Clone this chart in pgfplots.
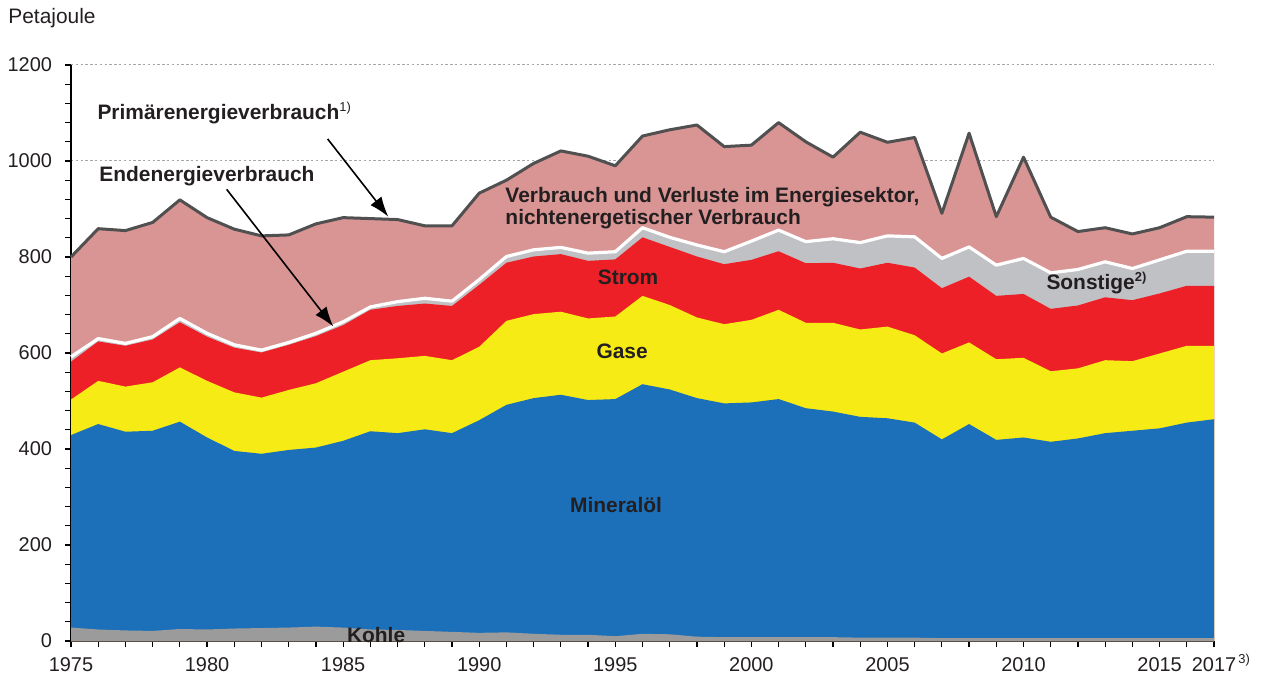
\documentclass[border=0pt]{standalone}
\usepackage{fontspec}
\setmainfont{Liberation Sans}
\usepackage{pgfplots}
\pgfplotsset{compat=1.18}
\usepackage{pgfplotstable}
\usetikzlibrary{arrows.meta}

\definecolor{cpink}{RGB}{217,148,148}
\definecolor{cred}{RGB}{237,32,39}
\definecolor{cyellow}{RGB}{246,235,20}
\definecolor{cblue}{RGB}{27,112,185}
\definecolor{ckohle}{RGB}{155,155,155}
\definecolor{csonst}{RGB}{192,193,196}
\definecolor{cprim}{RGB}{80,80,80}
\definecolor{ctext}{RGB}{35,31,32}

% cumulative tops of the stacked layers (Petajoule)
\pgfplotstableread{
year kohle oel gase strom ende prim
1975 28 429 503 582 592 800
1976 24 452 542 624 630 859
1977 22 436 530 615 620 855
1978 21 438 539 628 634 872
1979 25 457 570 664 672 919
1980 24 424 542 634 641 882
1981 26 396 518 611 617 858
1982 27 390 507 601 606 844
1983 28 398 523 617 622 846
1984 30 403 537 635 641 869
1985 28 417 561 658 665 882
1986 24 437 585 690 696 880
1987 23 433 589 698 707 878
1988 21 441 594 703 714 865
1989 19 433 585 698 708 865
1990 17 460 613 742 753 933
1991 18 492 667 788 801 960
1992 15 506 681 801 815 995
1993 13 513 686 806 820 1021
1994 13 502 672 792 808 1010
1995 10 504 676 795 811 990
1996 15 535 719 841 861 1052
1997 14 524 700 821 841 1065
1998 9 506 674 801 825 1075
1999 8 495 660 785 811 1030
2000 8 497 669 794 833 1033
2001 8 504 690 812 856 1080
2002 8 485 663 787 832 1040
2003 8 478 663 788 838 1008
2004 7 467 649 776 830 1060
2005 7 464 655 788 844 1039
2006 7 455 637 778 842 1049
2007 6 420 599 735 797 891
2008 6 452 622 759 821 1058
2009 6 419 587 719 783 884
2010 6 424 590 723 797 1008
2011 6 415 562 692 767 883
2012 6 422 568 699 774 853
2013 6 433 585 716 790 861
2014 6 438 583 710 776 848
2015 6 443 599 724 794 861
2016 6 455 615 740 812 884
2017 6 462 615 740 812 883
}\data

\begin{document}
\begin{tikzpicture}[x=1bp,y=1bp]
\path[use as bounding box] (0,0) rectangle (632,341);
\node[anchor=west, inner sep=0pt, text=ctext, font=\fontsize{10.5}{12}\selectfont] at (4,332) {Petajoule};
\begin{axis}[
  at={(35.5bp,20.5bp)}, anchor=south west,
  scale only axis, width=571.5bp, height=288bp,
  xmin=1975, xmax=2017, ymin=0, ymax=1200,
  axis x line=bottom, axis y line=left,
  axis line style={-, line width=0.7bp, black},
  xtick={1975,1980,1985,1990,1995,2000,2005,2010,2015,2017},
  xticklabels={1975,1980,1985,1990,1995,2000,2005,2010,2015,{2017\rlap{\smash{\raisebox{0.8ex}{\fontsize{6.5}{7}\selectfont\,3)}}}}},
  minor xtick={1975,1976,...,2017},
  ytick={0,200,...,1200},
  minor ytick={0,40,...,1200},
  tick align=outside,
  major tick length=3bp, minor tick length=3bp,
  tick style={black, line width=0.6bp},
  ymajorgrids,
  grid style={dashed, dash pattern=on 1.2bp off 1.2bp, gray!70, line width=0.5bp},
  tick label style={font=\fontsize{10}{12}\selectfont, text=ctext},
  /pgf/number format/assume math mode=true,
  /pgf/number format/1000 sep={},
  xticklabel style={yshift=-2bp},
  yticklabel style={xshift=-3bp},
  clip=false,
]
\addplot[fill=cpink, draw=none] table[x=year, y=prim] {\data} \closedcycle;
\addplot[fill=csonst, draw=none] table[x=year, y=ende] {\data} \closedcycle;
\addplot[fill=cred, draw=none] table[x=year, y=strom] {\data} \closedcycle;
\addplot[fill=cyellow, draw=none] table[x=year, y=gase] {\data} \closedcycle;
\addplot[fill=cblue, draw=none] table[x=year, y=oel] {\data} \closedcycle;
\addplot[fill=ckohle, draw=none] table[x=year, y=kohle] {\data} \closedcycle;
\addplot[white, line width=1.6bp, line join=round] table[x=year, y=ende] {\data};
\addplot[cprim, line width=1.5bp, line join=round] table[x=year, y=prim] {\data};

\begin{scope}[every node/.style={text=ctext, font=\bfseries\fontsize{10.5}{12}\selectfont, inner sep=0pt}]
\node[anchor=west] at (axis cs:1975.96,1100) {Primärenergieverbrauch\raisebox{0.7ex}{\mdseries\fontsize{6.5}{7}\selectfont 1)}};
\node[anchor=west] at (axis cs:1976.03,969) {Endenergieverbrauch};
\node[anchor=west] at (axis cs:1990.95,925) {Verbrauch und Verluste im Energiesektor,};
\node[anchor=west] at (axis cs:1990.95,879) {nichtenergetischer Verbrauch};
\node at (axis cs:1995.47,758) {Strom};
\node at (axis cs:1995.25,604) {Gase};
\node at (axis cs:1995.03,283) {Mineralöl};
\node at (axis cs:1986.21,12) {Kohle};
\node[anchor=west] at (axis cs:2010.83,746) {Sonstige\raisebox{0.7ex}{\fontsize{6.5}{7}\selectfont 2)}};
\end{scope}
\draw[-{Latex[length=10bp, width=7bp]}, line width=0.8bp, black] (axis cs:1984.43,1046) -- (axis cs:1986.66,884);
\draw[-{Latex[length=10bp, width=7bp]}, line width=0.8bp, black] (axis cs:1980.72,941) -- (axis cs:1984.64,655);
\end{axis}
\end{tikzpicture}
\end{document}
